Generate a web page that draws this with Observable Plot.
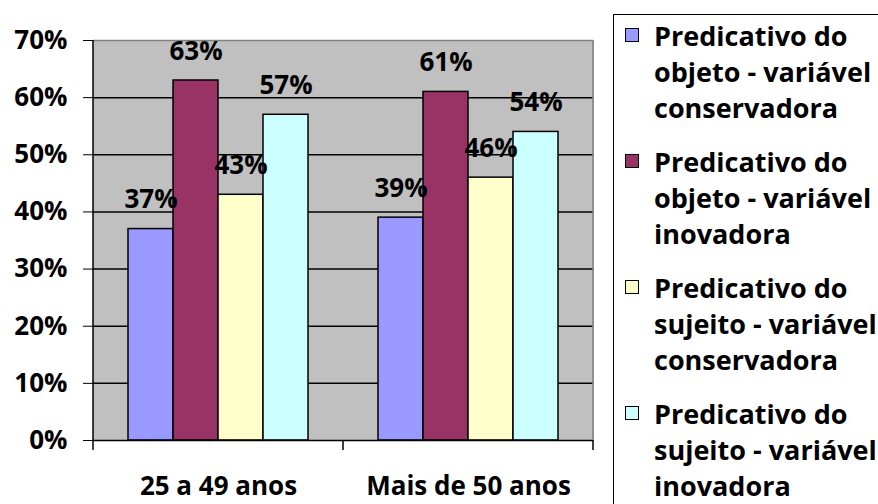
<!DOCTYPE html>
<html>
<head>
<meta charset="utf-8">
<script src="https://cdn.jsdelivr.net/npm/d3@7"></script>
<script src="https://cdn.jsdelivr.net/npm/@observablehq/plot@0.6"></script>
<style>
  html, body { margin: 0; padding: 0; background: #fff; overflow: hidden; }
  #wrap { position: relative; width: 878px; height: 504px; overflow: hidden; font-family: "Open Sans", Lato, sans-serif; font-weight: bold; }
  #legend { position: absolute; left: 613px; top: 14px; width: 320px; height: 560px; border: 1.5px solid #000; box-sizing: border-box; padding-top: 3px; }
  .item { position: relative; padding-left: 40px; margin-bottom: 18px; font-size: 27px; line-height: 36px; white-space: pre; color: #000; }
  .sw { position: absolute; left: 11px; top: 10px; width: 12px; height: 12px; border: 1.5px solid #000; }
</style>
</head>
<body>
<div id="wrap"><div id="chart"></div><div id="legend"></div></div>
<script>
const groups = ["25 a 49 anos", "Mais de 50 anos"];
const series = [
  "Predicativo do objeto - variável conservadora",
  "Predicativo do objeto - variável inovadora",
  "Predicativo do sujeito - variável conservadora",
  "Predicativo do sujeito - variável inovadora"
];
const colors = ["#9999FF", "#993366", "#FFFFCC", "#CCFFFF"];
const values25a49 = [0.37, 0.63, 0.43, 0.57];
const valuesMais50 = [0.39, 0.61, 0.46, 0.54];
const yTicks = [0, 0.1, 0.2, 0.3, 0.4, 0.5, 0.6, 0.7];

const valuesByGroup = [values25a49, valuesMais50];
const data = groups.flatMap((g, i) => series.map((s, j) => ({group: g, series: s, value: valuesByGroup[i][j]})));
const pct = d3.format(".0%");

const chart = Plot.plot({
  width: 878, height: 504,
  marginLeft: 92, marginRight: 285, marginTop: 40, marginBottom: 64,
  style: {fontFamily: "'Open Sans', Lato, sans-serif", fontWeight: "bold", fontSize: "26px", background: "transparent", color: "black", overflow: "visible"},
  fx: {domain: groups, padding: 0, label: null, axis: "bottom", tickSize: 0, tickPadding: 36},
  x: {domain: series, paddingInner: 0, paddingOuter: 0.72, axis: null},
  y: {domain: [0, 0.7], ticks: yTicks, tickFormat: pct, tickSize: 10, tickPadding: 16, label: null},
  color: {domain: series, range: colors},
  marks: [
    Plot.frame({fill: "#C0C0C0", stroke: "#C0C0C0", strokeWidth: 1}),
    Plot.ruleY(yTicks.slice(1, -1), {stroke: "black", strokeWidth: 1.5}),
    Plot.ruleY([0.7], {stroke: "#808080", strokeWidth: 1.5}),
    Plot.barY(data, {fx: "group", x: "series", y: "value", fill: "series", stroke: "black", strokeWidth: 1.5}),
    Plot.text(data, {fx: "group", x: "series", y: "value", text: d => pct(d.value), lineAnchor: "bottom", dy: -21, fontSize: 26, fontWeight: "bold", fill: "black"}),
    Plot.ruleY([0], {stroke: "black", strokeWidth: 1.5})
  ]
});
document.getElementById("chart").appendChild(chart);

// axis line, right border and category boundary ticks, from the plot's scales
let left = 92, right = 593, bands = [92, 342.5, 593], y0 = 440, yTop = 40;
try {
  const fx = chart.scale("fx"), y = chart.scale("y");
  const starts = groups.map(g => fx.apply(g));
  bands = starts.concat([starts[starts.length - 1] + fx.bandwidth]);
  left = bands[0]; right = bands[bands.length - 1];
  y0 = y.apply(0); yTop = y.apply(0.7);
} catch (e) {}
const svg = d3.select(chart);
const g = svg.append("g");
g.append("line").attr("x1", right).attr("x2", right).attr("y1", yTop).attr("y2", y0).attr("stroke", "#808080").attr("stroke-width", 1.5);
g.append("line").attr("x1", left).attr("x2", left).attr("y1", yTop).attr("y2", y0).attr("stroke", "black").attr("stroke-width", 1.5);
g.selectAll("line.bt").data(bands).join("line").attr("class", "bt")
  .attr("x1", d => d).attr("x2", d => d).attr("y1", y0).attr("y2", y0 + 10).attr("stroke", "black").attr("stroke-width", 1.5);

// legend
const legend = d3.select("#legend");
const items = legend.selectAll("div.item").data(series).join("div").attr("class", "item");
items.append("div").attr("class", "sw").style("background", (d, i) => colors[i]);
items.append("span").text(d => d.replace(/ (objeto|sujeito)/, "\n$1").replace(/ (conservadora|inovadora)$/, "\n$1"));
</script>
</body>
</html>
